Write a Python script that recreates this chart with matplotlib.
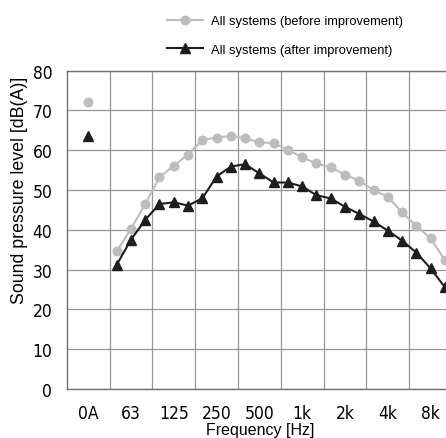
import numpy as np
import matplotlib
matplotlib.use('Agg')
import matplotlib.pyplot as plt

# 1/3 octave bands 50 Hz .. 10 kHz, plus overall (0A)
bandas = ['50', '63', '80', '100', '125', '160', '200', '250', '315', '400',
          '500', '630', '800', '1k', '1.25k', '1.6k', '2k', '2.5k', '3.15k',
          '4k', '5k', '6.3k', '8k', '10k']
rotulos_x = ['0A', '63', '125', '250', '500', '1k', '2k', '4k', '8k']

antes_oa = 72.2
depois_oa = 63.7
antes = [34.6, 40.2, 46.5, 53.2, 56.1, 58.9, 62.6, 63.2, 63.6, 63.0,
         62.0, 61.8, 60.1, 58.2, 56.7, 55.7, 53.9, 52.3, 50.0, 48.3,
         44.4, 41.0, 37.9, 32.4]
depois = [31.2, 37.5, 42.5, 46.5, 46.9, 46.1, 47.9, 53.4, 55.9, 56.5,
          54.2, 51.9, 51.9, 50.9, 48.7, 47.9, 45.8, 44.0, 42.1, 39.8,
          37.3, 34.3, 30.3, 25.6]

fonte = ['Liberation Sans', 'DejaVu Sans']
tick_kw = dict(family='DejaVu Sans', fontstretch='condensed', fontsize=12.5)

fig = plt.figure(figsize=(4.46, 4.39), dpi=100)
ax = fig.add_axes([0.1496, 0.1116, 0.8504, 0.7251])

x_oa = 1.5
x_bandas = np.arange(len(bandas)) + 3.5

cinza = '#bdbdbd'
preto = '#1e1e1e'

ax.plot(x_bandas, antes, color=cinza, lw=1.5, marker='o', ms=6.2,
        label='All systems (before improvement)', zorder=3)
ax.plot([x_oa], [antes_oa], color=cinza, marker='o', ms=6.2, ls='none', zorder=3)
ax.plot(x_bandas, depois, color=preto, lw=1.5, marker='^', ms=7.5,
        label='All systems (after improvement)', zorder=4)
ax.plot([x_oa], [depois_oa], color=preto, marker='^', ms=7.5, ls='none', zorder=4)

ax.set_xlim(0, 26.58)
ax.set_ylim(0, 80)
ax.set_xticks(np.arange(3, 27, 3))
ax.set_xticks(np.arange(len(rotulos_x)) * 3 + 1.5, minor=True)
ax.set_xticklabels([])
ax.set_xticklabels(rotulos_x, minor=True, **tick_kw)
ax.tick_params(axis='x', which='major', length=0)
ax.tick_params(axis='x', which='minor', length=0, pad=10.5)
ax.set_yticks(np.arange(0, 81, 10))
ax.set_yticklabels([str(v) for v in range(0, 81, 10)], **tick_kw)
ax.tick_params(axis='y', length=0, pad=10.4)

ax.grid(True, which='major', color='#959595', lw=0.9)
ax.set_axisbelow(True)
for lado in ['left', 'bottom', 'top']:
    ax.spines[lado].set_color('#707070')
    ax.spines[lado].set_linewidth(1.0)
ax.spines['right'].set_visible(False)

fig.text(20 / 446, 1 - 190 / 439, 'Sound pressure level [dB(A)]', rotation=90,
         ha='center', va='center', family=fonte, fontsize=12.8)
fig.text(260 / 446, 4 / 439, 'Frequency [Hz]', ha='center', va='baseline',
         family=fonte, fontsize=11.5)

fig.legend(loc='upper left', bbox_to_anchor=(0.349, 0.99), frameon=False,
           prop={'family': fonte, 'size': 9.3}, handlelength=2.8,
           handletextpad=0.62, labelspacing=1.3)

fig.savefig('out.png', dpi=100)
